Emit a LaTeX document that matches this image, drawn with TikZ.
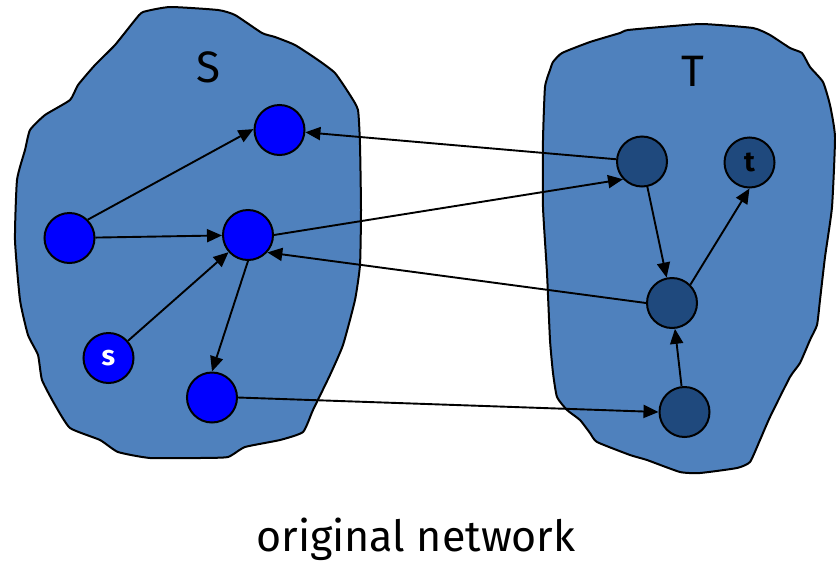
\documentclass[tikz,border=0pt]{standalone}
\usepackage{fontspec}
\setmainfont{Fira Sans}
\usetikzlibrary{arrows.meta}
\definecolor{regionfill}{RGB}{79,129,189}
\definecolor{tnodefill}{RGB}{31,73,125}
\definecolor{snodefill}{RGB}{0,0,255}
\begin{document}
\begin{tikzpicture}[x=1pt,y=-1pt,
  region/.style={draw=black, line width=2pt, fill=regionfill, line join=round},
  snode/.style={circle, draw=black, line width=2pt, fill=snodefill,
    minimum size=50pt, inner sep=0pt},
  tnode/.style={snode, fill=tnodefill},
  edge/.style={line width=1.9pt, -{Triangle[length=15pt,width=13pt]}},
  setlabel/.style={font=\fontsize{44}{48}\selectfont},
  nodelabel/.style={font=\fontsize{28}{30}\selectfont}
]
\useasboundingbox (0,0) rectangle (836,563);

% the two sides of the cut
\draw[region] plot[smooth cycle, tension=0.3] coordinates {
  (143,12) (170,7) (218,10) (235,15) (262,33) (275,37) (295,45) (318,60)
  (335,73) (350,95) (358,110) (360,145) (361,210) (360,265) (355,300)
  (343,345) (330,375) (313,410) (303,432) (280,440) (245,447) (228,457)
  (200,458) (150,458) (118,452) (100,440) (70,428) (55,405) (42,380)
  (38,355) (28,335) (20,300) (15,240) (17,180) (25,150) (30,130) (45,115)
  (70,100) (78,85) (95,65) (115,45) (135,20)};
\draw[region] plot[smooth cycle, tension=0.3] coordinates {
  (553,62) (562,53) (590,42) (620,33) (628,30) (673,26) (703,24) (753,28)
  (770,35) (790,48) (802,53) (810,67) (823,82) (830,105) (835,137)
  (832,207) (825,257) (820,300) (817,325) (810,340) (800,363) (790,377)
  (770,417) (760,440) (750,462) (737,468) (700,473) (680,472) (647,460)
  (630,455) (597,442) (590,433) (580,420) (567,410) (557,397) (553,373)
  (550,340) (547,273) (543,207) (543,140) (545,87) (550,70)};

\node[setlabel] (Slabel) at (208,67) {S};
\node[setlabel] (Tlabel) at (693,71) {T};

% vertices on the source side
\node[snode] (A) at (279.5,130) {};
\node[snode] (B) at (69.5,238) {};
\node[snode] (C) at (248,235) {};
\node[snode, nodelabel, text=white] (s) at (108.5,358) {\bfseries s};
\node[snode] (D) at (212,397.5) {};

% vertices on the sink side
\node[tnode] (E) at (642,161.5) {};
\node[tnode, nodelabel] (t) at (749.5,162.5) {\bfseries t};
\node[tnode] (F) at (672,303) {};
\node[tnode] (G) at (684.5,412) {};

% edges
\draw[edge] (B.45) -- (A.178);
\draw[edge] (B) -- (C);
\draw[edge] (s) -- (C);
\draw[edge] (C.270) -- (D.90);
\draw[edge] (E) -- (A);
\draw[edge] (C.0) -- (E.223);
\draw[edge] (F.180) -- (C.318);
\draw[edge] (D.0) -- (G.180);
\draw[edge] (E) -- (F);
\draw[edge] (F.45) -- (t.270);
\draw[edge] (G) -- (F);

\node[font=\fontsize{43}{47}\selectfont, anchor=base] (caption) at (416,551) {original network};
\end{tikzpicture}
\end{document}
